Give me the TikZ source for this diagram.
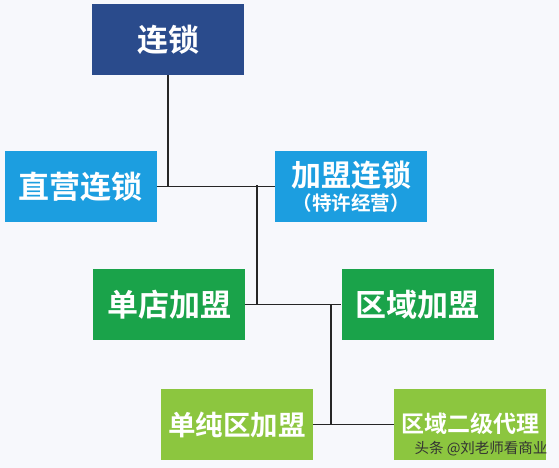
\documentclass[tikz,border=0pt]{standalone}
\usepackage{fontspec}
\newfontfamily\cjk{Noto Sans CJK SC}[BoldFont={Noto Sans CJK SC Bold}]
\definecolor{bg}{HTML}{F7F8FC}
\definecolor{dblue}{HTML}{2A4B8C}
\definecolor{lblue}{HTML}{1C9EE0}
\definecolor{dgreen}{HTML}{1AA34A}
\definecolor{lgreen}{HTML}{8CC63F}
\begin{document}
\begin{tikzpicture}[x=1pt,y=-1pt,
  box/.style={minimum width=152pt,minimum height=71pt,inner sep=0pt,text=white,font=\cjk\bfseries\fontsize{31}{33}\selectfont,align=center},
  conn/.style={draw=black!85,line width=1.4pt}]
\fill[bg] (0,0) rectangle (559,468);
\useasboundingbox (0,0) rectangle (559,468);
\node[box,fill=dblue] (top) at (168,39.5) {连锁};
\node[box,fill=lblue] (zy) at (80.5,186.5) {直营连锁};
\node[box,fill=lblue,font=\cjk\bfseries\fontsize{30}{30}\selectfont] (jm) at (351,186.5) {加盟连锁\\[-6pt]{\fontsize{19.5}{20}\selectfont（特许经营）}};
\node[box,fill=dgreen] (dd) at (169,304.5) {单店加盟};
\node[box,fill=dgreen] (qy) at (417.5,304.5) {区域加盟};
\node[box,fill=lgreen,font=\cjk\bfseries\fontsize{27.5}{29}\selectfont] (dc) at (237,424.5) {单纯区加盟};
\node[box,fill=lgreen,font=\cjk\bfseries\fontsize{23}{25}\selectfont] (ej) at (470,424.5) {\raisebox{3pt}{区域二级代理}};
\coordinate (j1) at (257,185);
\coordinate (j2) at (331,304);
\draw[conn] (top.south) -- (top.south |- zy.east);
\draw[conn] (zy.east) -- (jm.west);
\draw[conn] (j1) -- (j1 |- dd.east);
\draw[conn] (dd.east) -- (qy.west);
\draw[conn] (j2) -- (j2 |- dc.east);
\draw[conn] (dc.east) -- (dc.east -| ej.west);
\node[font=\cjk\fontsize{14.5}{15}\selectfont,text=black!80,inner sep=0pt] (wm) at (481,449) {头条 @刘老师看商业};
\end{tikzpicture}
\end{document}
